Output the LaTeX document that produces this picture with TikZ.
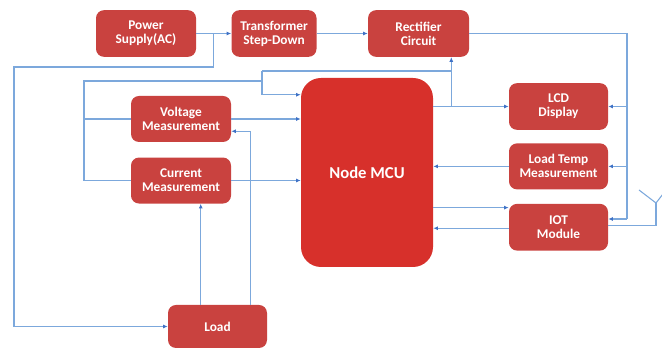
\documentclass[tikz,border=0pt]{standalone}
\usepackage{fontspec}
\setmainfont{Carlito}
\definecolor{boxred}{HTML}{C9423F}
\definecolor{mcured}{HTML}{D7302B}
\definecolor{wireblue}{HTML}{7CA8DC}
\definecolor{tipblue}{HTML}{3F72C6}
\usetikzlibrary{arrows.meta,positioning,calc}

\begin{document}
\begin{tikzpicture}[x=0.75pt, y=-0.75pt,
  box/.style={rectangle, rounded corners=6pt, fill=boxred, text=white,
    align=center, inner sep=0pt, minimum width=74.25pt, minimum height=35pt,
    font=\bfseries\fontsize{10}{10.5}\selectfont},
  mcu/.style={box, fill=mcured, rounded corners=15pt, minimum width=99pt,
    minimum height=141.75pt, font=\bfseries\fontsize{12.5}{14}\selectfont},
  link/.style={draw=wireblue, line width=0.8pt},
  arr/.style={link, -{Latex[length=3.5pt,width=3pt,color=tipblue]}},
]
  \useasboundingbox (0,0) rectangle (662,348);

  % top row
  \node[box, minimum width=75pt] (ps) at (146,33.5) {Power\\Supply(AC)};
  \node[box, minimum width=63.75pt, right=26.25pt of ps] (tf) {Transformer\\Step-Down};
  \node[box, minimum width=75.75pt, right=38.25pt of tf] (rc) {Rectifier\\Circuit};

  % controller
  \node[mcu] (mcu) at (367,172.5) {Node MCU};

  % sensors on the left
  \node[box, minimum width=75pt, minimum height=34.5pt] (vm) at (181,119) {Voltage\\Measurement};
  \node[box, minimum width=75pt, minimum height=34.5pt, below=11.25pt of vm] (cm) {Current\\Measurement};
  \node[box, minimum height=32.25pt] (load) at (217.5,326.5) {Load};

  % right column
  \node[box] (lcd) at (558.5,106.5) {LCD\\Display};
  \node[box, minimum height=34.5pt, below=9.75pt of lcd] (lt) {Load Temp\\Measurement};
  \node[box, below=10.5pt of lt] (iot) {IOT\\Module};

  % supply chain
  \coordinate (psj) at ($(ps.east)!0.5!(tf.west)$);
  \coordinate (lft) at (14,67);
  \draw[arr] (ps) -- (tf);
  \draw[arr] (psj) |- (lft) |- (load.west);
  \draw[arr] (tf) -- (rc);

  % rectifier bus on the right
  \coordinate (bus) at (627,219);
  \draw[link] (rc.east) -| (bus);
  \draw[arr] (bus) -- (bus -| iot.east);
  \draw[arr] (bus |- lcd.east) -- (lcd.east);
  \draw[arr] (bus |- lt.east) -- (lt.east);

  % antenna
  \coordinate (ant) at (656,203);
  \coordinate (iotant) at ($(iot.east)+(0,-1.5)$);
  \draw[link] (iotant) -| (ant);
  \draw[link] (ant) -- ++(-17,-13) (ant) -- ++(7,-9);

  % feed from the controller
  \coordinate (rj) at ($(mcu.east |- lcd)+(18,0)$);
  \coordinate (tfeed) at (262,71);
  \coordinate (lbus) at (84,81);
  \draw[arr] (mcu.east |- lcd) -- (lcd);
  \draw[arr] (rj) -- (rj |- rc.south);
  \draw[link] (rj |- tfeed) -- (tfeed);
  \draw[arr] (tfeed) |- ($(mcu.north west)+(0,17)$);
  \draw[link] (tfeed |- lbus) -- (lbus) |- (cm.west);
  \draw[link] (lbus |- vm.west) -- (vm.west);

  % measurements into the controller
  \draw[arr] (vm) -- (vm -| mcu.west);
  \draw[arr] (cm) -- (cm -| mcu.west);
  \coordinate (ldl) at ($(load.north west)+(33,0)$);
  \coordinate (ldr) at ($(load.north west)+(83,0)$);
  \draw[arr] (ldl) -- (ldl |- cm.south);
  \draw[arr] (ldr) |- ($(vm.south east)+(0,-11)$);
  \draw[arr] (lt) -- (lt -| mcu.east);

  % IOT link
  \coordinate (iotin) at ($(iot.north west)+(0,4)$);
  \coordinate (iotout) at ($(iot.west)+(0,1)$);
  \draw[arr] (iotin -| mcu.east) -- (iotin);
  \draw[arr] (iotout) -- (iotout -| mcu.east);
\end{tikzpicture}
\end{document}
